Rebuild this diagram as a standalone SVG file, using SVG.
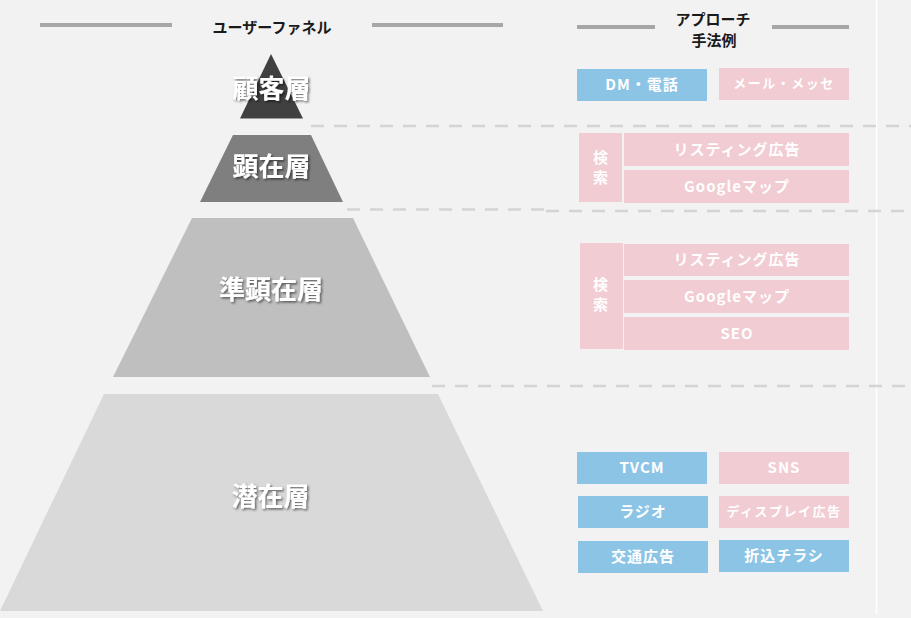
<svg xmlns="http://www.w3.org/2000/svg" width="911" height="618" viewBox="0 0 911 618">
  <defs>
    <filter id="sh" x="-20%" y="-20%" width="140%" height="140%">
      <feDropShadow dx="1.5" dy="1.5" stdDeviation="1" flood-color="#000" flood-opacity="0.55"/>
    </filter>
    <style>
      text { font-family: "Noto Sans CJK JP", "Liberation Sans", sans-serif; dominant-baseline: central; text-anchor: middle; }
      .head { font-size: 15px; font-weight: bold; fill: #1a1a1a; }
      .hline { stroke: #a6a6a6; stroke-width: 4; }
      .dash { stroke: #d4d4d4; stroke-width: 2.5; stroke-dasharray: 13 10; fill: none; }
      .layer { font-size: 26px; font-weight: bold; fill: #ffffff; filter: url(#sh); }
      .blue { fill: #8cc4e6; }
      .pink { fill: #f2ccd3; }
      .lbl { font-size: 15px; font-weight: bold; fill: #ffffff; letter-spacing: 1px; }
      .lbls { font-size: 13px; font-weight: bold; fill: #ffffff; letter-spacing: 1.5px; }
    </style>
  </defs>
  <rect x="0" y="0" width="911" height="618" fill="#f2f2f2"/>
  <line x1="876.5" y1="0" x2="876.5" y2="614" stroke="#ffffff" stroke-width="1.5"/>

  <g id="header-funnel">
    <line class="hline" x1="40" y1="25" x2="172" y2="25"/>
    <line class="hline" x1="372" y1="25" x2="503" y2="25"/>
    <text class="head" x="272" y="26">ユーザーファネル</text>
  </g>
  <g id="header-approach">
    <line class="hline" x1="577" y1="27" x2="655" y2="27"/>
    <line class="hline" x1="772" y1="27" x2="849" y2="27"/>
    <text class="head" x="713" y="18.5">アプローチ</text>
    <text class="head" x="714" y="39.5">手法例</text>
  </g>

  <g id="connectors">
    <line class="dash" x1="311" y1="126" x2="911" y2="126"/>
    <line class="dash" x1="347" y1="209.5" x2="545" y2="209.5"/>
    <line class="dash" x1="546" y1="211" x2="911" y2="211"/>
    <line class="dash" x1="432" y1="386" x2="911" y2="386"/>
  </g>

  <g id="layer-customer">
    <polygon points="271,54 303,118.5 240,118.5" fill="#404040"/>
    <text class="layer" x="271.5" y="86.5">顧客層</text>
  </g>
  <g id="layer-apparent">
    <polygon points="233,135 311,135 343,202 200,202" fill="#7f7f7f"/>
    <text class="layer" x="271.5" y="164.5">顕在層</text>
  </g>
  <g id="layer-semi">
    <polygon points="192,218 353,218 430,377 113,377" fill="#bfbfbf"/>
    <text class="layer" x="271" y="287.5">準顕在層</text>
  </g>
  <g id="layer-latent">
    <polygon points="104,394 438,394 543,611 0,611" fill="#d9d9d9"/>
    <text class="layer" x="270.5" y="494.5">潜在層</text>
  </g>

  <g id="approach-customer">
    <g id="box-dm"><rect class="blue" x="577" y="69" width="130" height="32"/><text class="lbl" x="642" y="83.5">DM・電話</text></g>
    <g id="box-mail"><rect class="pink" x="719" y="68" width="130" height="32"/><text class="lbls" x="784" y="82.5">メール・メッセ</text></g>
  </g>

  <g id="approach-apparent">
    <g id="box-search1"><rect class="pink" x="579" y="133" width="43" height="69"/><text class="lbl" x="601" y="156.5">検</text><text class="lbl" x="601" y="176.5">索</text></g>
    <g id="box-listing1"><rect class="pink" x="624" y="133" width="225" height="33"/><text class="lbl" x="737" y="148">リスティング広告</text></g>
    <g id="box-map1"><rect class="pink" x="624" y="170" width="225" height="33"/><text class="lbl" x="737" y="185">Googleマップ</text></g>
  </g>

  <g id="approach-semi">
    <g id="box-search2"><rect class="pink" x="580" y="243" width="43" height="106"/><text class="lbl" x="601" y="283.5">検</text><text class="lbl" x="601" y="303.5">索</text></g>
    <g id="box-listing2"><rect class="pink" x="624" y="244" width="225" height="32"/><text class="lbl" x="737" y="258.5">リスティング広告</text></g>
    <g id="box-map2"><rect class="pink" x="624" y="280" width="225" height="33"/><text class="lbl" x="737" y="295">Googleマップ</text></g>
    <g id="box-seo"><rect class="pink" x="624" y="317" width="225" height="33"/><text class="lbl" x="737" y="332">SEO</text></g>
  </g>

  <g id="approach-latent">
    <g id="box-tvcm"><rect class="blue" x="577" y="452" width="130" height="32"/><text class="lbl" x="642" y="466.5">TVCM</text></g>
    <g id="box-sns"><rect class="pink" x="719" y="452" width="130" height="32"/><text class="lbl" x="784" y="466.5">SNS</text></g>
    <g id="box-radio"><rect class="blue" x="578" y="496" width="130" height="32"/><text class="lbl" x="643" y="510.5">ラジオ</text></g>
    <g id="box-display"><rect class="pink" x="719" y="496" width="130" height="32"/><text class="lbls" x="784" y="510.5">ディスプレイ広告</text></g>
    <g id="box-transit"><rect class="blue" x="578" y="541" width="130" height="32"/><text class="lbl" x="643" y="555.5">交通広告</text></g>
    <g id="box-flyer"><rect class="blue" x="719" y="540" width="130" height="32"/><text class="lbl" x="784" y="554.5">折込チラシ</text></g>
  </g>
</svg>
